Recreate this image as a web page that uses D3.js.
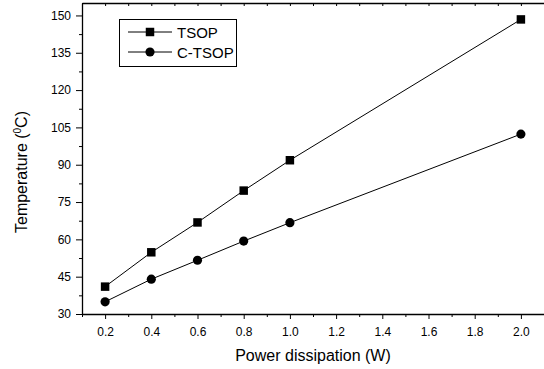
<!DOCTYPE html>
<html>
<head>
<meta charset="utf-8">
<script src="https://cdn.jsdelivr.net/npm/d3@7"></script>
<style>
  body { margin: 0; background: #fff; }
  text { font-family: "Liberation Sans", Arial, sans-serif; fill: #000; }
</style>
</head>
<body>
<div id="chart"></div>
<script>
const power = [0.2, 0.4, 0.6, 0.8, 1.0, 2.0];
const tsop = [41, 54.8, 66.8, 79.6, 91.8, 148.4];
const ctsop = [34.9, 44, 51.6, 59.3, 66.7, 102.3];
const xTicks = [0.2, 0.4, 0.6, 0.8, 1.0, 1.2, 1.4, 1.6, 1.8, 2.0];
const yTicks = [30, 45, 60, 75, 90, 105, 120, 135, 150];
const seriesNames = ["TSOP", "C-TSOP"];

const width = 544, height = 369;
const margin = { top: 3, right: 0, bottom: 55, left: 82 };
const innerW = width - margin.left - margin.right;
const innerH = height - margin.top - margin.bottom;

const x = d3.scaleLinear().domain([0.1, 2.1]).range([margin.left, margin.left + innerW]);
const y = d3.scaleLinear().domain([30, 155]).range([margin.top + innerH, margin.top]);

const svg = d3.select("#chart")
  .append("svg")
  .attr("width", width)
  .attr("height", height);

// minor ticks
const xMinor = d3.range(0.1, 2.11, 0.1).filter(v => !xTicks.some(t => Math.abs(t - v) < 1e-6));
const yMinor = d3.range(37.5, 155, 15);

svg.append("g")
  .attr("transform", `translate(0,${margin.top + innerH})`)
  .call(d3.axisBottom(x).tickValues(xMinor).tickSize(3).tickFormat(""))
  .call(g => g.select(".domain").remove());

svg.append("g")
  .attr("transform", `translate(${margin.left},0)`)
  .call(d3.axisLeft(y).tickValues(yMinor).tickSize(3).tickFormat(""))
  .call(g => g.select(".domain").remove());

// top axis, ticks pointing inward
svg.append("g")
  .attr("transform", `translate(0,${margin.top})`)
  .call(d3.axisBottom(x).tickValues(xTicks.concat(xMinor)).tickSize(3).tickFormat("").tickSizeOuter(0))
  .call(g => g.select(".domain").attr("stroke-width", 1.3));

// bottom axis
svg.append("g")
  .attr("transform", `translate(0,${margin.top + innerH})`)
  .call(d3.axisBottom(x).tickValues(xTicks).tickSize(5).tickSizeOuter(0).tickPadding(8)
    .tickFormat(d3.format(".1f")))
  .call(g => g.select(".domain").attr("stroke-width", 1.3))
  .call(g => g.selectAll("text").attr("font-size", 12).attr("font-family", "Liberation Sans, Arial, sans-serif"));

// left axis
svg.append("g")
  .attr("transform", `translate(${margin.left},0)`)
  .call(d3.axisLeft(y).tickValues(yTicks).tickSize(6).tickSizeOuter(0).tickPadding(5))
  .call(g => g.select(".domain").attr("stroke-width", 1.3))
  .call(g => g.selectAll("text").attr("font-size", 12).attr("font-family", "Liberation Sans, Arial, sans-serif"));

// axis titles
svg.append("text")
  .attr("x", (x(2.0) + x(0.2)) / 2)
  .attr("y", 361)
  .attr("text-anchor", "middle")
  .attr("font-size", 16)
  .text("Power dissipation (W)");

const yt = svg.append("text")
  .attr("transform", `translate(27,${172}) rotate(-90)`)
  .attr("text-anchor", "middle")
  .attr("font-size", 16);
yt.append("tspan").text("Temperature (");
yt.append("tspan").attr("font-size", 10).attr("dy", -6).text("0");
yt.append("tspan").attr("dy", 6).text("C)");

// lines
const line = d3.line().x(d => x(d[0])).y(d => y(d[1]));
const data = [
  power.map((p, i) => [p, tsop[i]]),
  power.map((p, i) => [p, ctsop[i]])
];

svg.append("g")
  .selectAll("path")
  .data(data)
  .join("path")
  .attr("d", line)
  .attr("fill", "none")
  .attr("stroke", "#000")
  .attr("stroke-width", 1);

const sq = d3.symbol().type(d3.symbolSquare).size(72);
const ci = d3.symbol().type(d3.symbolCircle).size(66);

svg.append("g")
  .selectAll("path")
  .data(data[0])
  .join("path")
  .attr("transform", d => `translate(${x(d[0])},${y(d[1])})`)
  .attr("d", sq)
  .attr("fill", "#000");

svg.append("g")
  .selectAll("path")
  .data(data[1])
  .join("path")
  .attr("transform", d => `translate(${x(d[0])},${y(d[1])})`)
  .attr("d", ci)
  .attr("fill", "#000");

// legend
const legend = svg.append("g");
legend.append("rect")
  .attr("x", 119.5).attr("y", 19.5)
  .attr("width", 117).attr("height", 47)
  .attr("fill", "#fff").attr("stroke", "#000").attr("stroke-width", 1);

const symbols = [sq, ci];
seriesNames.forEach((name, i) => {
  const ly = 32 + i * 20;
  legend.append("line")
    .attr("x1", 128).attr("x2", 172)
    .attr("y1", ly).attr("y2", ly)
    .attr("stroke", "#000").attr("stroke-width", 1);
  legend.append("path")
    .attr("transform", `translate(150,${ly})`)
    .attr("d", symbols[i])
    .attr("fill", "#000");
  legend.append("text")
    .attr("x", 177).attr("y", ly + 5.5)
    .attr("font-size", 15)
    .text(name);
});
</script>
</body>
</html>
